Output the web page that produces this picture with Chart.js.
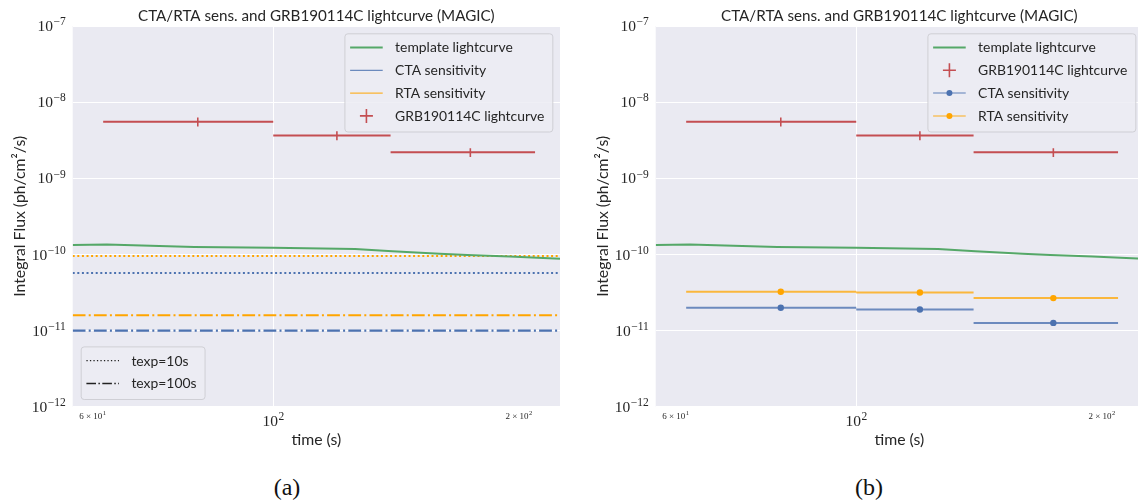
<!DOCTYPE html>
<html><head><meta charset="utf-8">
<script src="https://cdn.jsdelivr.net/npm/chart.js@4/dist/chart.umd.min.js"></script>
<style>
html,body{margin:0;padding:0;background:#fff;width:1138px;height:502px;overflow:hidden;position:relative}
canvas{position:absolute;top:0}
#cA{left:0}
#cB{left:580px}
.cap{position:absolute;top:472px;font-family:"Liberation Serif","DejaVu Serif",serif;font-size:24px;color:#111;transform:translateX(-50%);line-height:30px}
</style></head><body>
<canvas id="cA" width="570" height="470"></canvas>
<canvas id="cB" width="573" height="470"></canvas>
<div class="cap" style="left:287px">(a)</div>
<div class="cap" style="left:869px">(b)</div>
<script>
// ---------- data ----------
const binStart = [61.85, 100, 139.3];
const binEnd = [100, 139.3, 209.5];
const binMid = [80.8, 119.7, 174.5];
const grbFlux = [5.53e-9, 3.66e-9, 2.19e-9];
const grbFluxErr = [0.75e-9, 0.5e-9, 0.29e-9];

const templateTime = [56.75, 62.5, 80, 100, 126, 140, 160, 173, 195, 224.8];
const templateFlux = [1.33e-10, 1.35e-10, 1.25e-10, 1.22e-10, 1.18e-10, 1.10e-10, 1.02e-10, 9.8e-11, 9.4e-11, 8.8e-11];

const ctaSens10s = 5.68e-11;
const rtaSens10s = 9.5e-11;
const ctaSens100s = 1.0e-11;
const rtaSens100s = 1.59e-11;

const ctaSensBins = [1.99e-11, 1.89e-11, 1.26e-11];
const rtaSensBins = [3.23e-11, 3.16e-11, 2.67e-11];

const timeRange = [56.75, 224.8];
const yTickExponents = [-12, -11, -10, -9, -8, -7];
const xMajorTicks = [100];
const xMinorLabelled = [60, 200];

const chartTitle = "CTA/RTA sens. and GRB190114C lightcurve (MAGIC)";
const xTitle = "time (s)";
const yTitle = "Integral Flux (ph/cm²/s)";

// ---------- style ----------
const GREEN = '#55A868', RED = '#C44E52', BLUE = '#4C72B0', ORANGE = '#FFA500';
const BG = '#EAEAF2', TXT = '#262626';
const SANS = '"Lato","DejaVu Sans",sans-serif';
const SERIF = '"Liberation Serif","DejaVu Serif",serif';
const DOT = [2, 2.6];
const DASHDOT = [12.8, 3.2, 2, 3.2];

// ---------- helpers building segment data ----------
function flatLine(v) {
  return [{x: timeRange[0], y: v}, {x: timeRange[1], y: v}];
}
function hSegments(lo, hi, vals) {
  const out = [];
  vals.forEach((v, i) => { out.push({x: lo[i], y: v}, {x: hi[i], y: v}, {x: hi[i], y: null}); });
  return out;
}
function vSegments(mid, vals, errs) {
  const out = [];
  vals.forEach((v, i) => { out.push({x: mid[i], y: v - errs[i]}, {x: mid[i], y: v + errs[i]}, {x: mid[i], y: null}); });
  return out;
}
function points(xs, ys) { return xs.map((x, i) => ({x, y: ys[i]})); }

function lineDs(data, color, width, dash) {
  return {type: 'line', data, borderColor: color, borderWidth: width, borderDash: dash || [],
    pointRadius: 0, tension: 0, fill: false, spanGaps: false, borderCapStyle: 'butt'};
}
function markerDs(data, color) {
  return {type: 'scatter', data, backgroundColor: color, borderColor: color, borderWidth: 0,
    pointRadius: 3.2, showLine: false};
}

// ---------- text drawing ----------
const SUP = {'-': '\u2212'};
function expText(e) { return String(e).split('').map(c => SUP[c] || c).join(''); }

function drawPower(ctx, prefix, exp, x, y, align, baseSize, expSize) {
  ctx.save();
  ctx.fillStyle = TXT;
  ctx.textBaseline = 'alphabetic';
  const baseStr = prefix + '10';
  ctx.font = baseSize + 'px ' + SERIF;
  const wb = ctx.measureText(baseStr).width;
  ctx.font = expSize + 'px ' + SERIF;
  const es = expText(exp);
  const we = ctx.measureText(es).width;
  const total = wb + we;
  let x0 = align === 'right' ? x - total : x - total / 2;
  ctx.textAlign = 'left';
  ctx.font = baseSize + 'px ' + SERIF;
  ctx.fillText(baseStr, x0, y + baseSize * 0.33);
  ctx.font = expSize + 'px ' + SERIF;
  ctx.fillText(es, x0 + wb + 0.5, y - baseSize * 0.05);
  ctx.restore();
}

function drawLegend(ctx, a, entries, anchor) {
  ctx.save();
  ctx.font = '13.9px ' + SANS;
  const textW = Math.max(...entries.map(e => ctx.measureText(e.label).width));
  const padL = 5.7, handleLen = 32.6, gap = 12.4, padR = 8, rowH = 22.8, padT = 14.2, padB = 15.6;
  const w = padL + handleLen + gap + textW + padR;
  const h = padT + (entries.length - 1) * rowH + padB;
  let x0, y0;
  if (anchor === 'upper right') { x0 = a.right - 7.7 - w; y0 = a.top + 7.3; }
  else { x0 = a.left + 8; y0 = a.bottom - 7.7 - h; }
  ctx.beginPath();
  ctx.roundRect(x0 + 0.5, y0 + 0.5, w, h, 3);
  ctx.fillStyle = 'rgba(236,236,243,0.85)';
  ctx.fill();
  ctx.strokeStyle = 'rgba(204,204,210,0.9)';
  ctx.lineWidth = 1;
  ctx.stroke();
  entries.forEach((e, i) => {
    const cy = y0 + padT + i * rowH;
    const hx0 = x0 + padL, hx1 = hx0 + handleLen, hc = (hx0 + hx1) / 2;
    ctx.save();
    if (e.kind === 'line' || e.kind === 'linedot') {
      ctx.strokeStyle = e.color; ctx.globalAlpha = e.alpha || 1;
      ctx.lineWidth = e.width; ctx.setLineDash(e.dash || []);
      ctx.beginPath(); ctx.moveTo(hx0, cy); ctx.lineTo(hx1, cy); ctx.stroke();
      ctx.globalAlpha = 1;
      if (e.kind === 'linedot') {
        ctx.fillStyle = e.color; ctx.beginPath(); ctx.arc(hc, cy, 3, 0, Math.PI * 2); ctx.fill();
      }
    } else if (e.kind === 'plus') {
      ctx.strokeStyle = e.color; ctx.lineWidth = 1.6;
      ctx.beginPath(); ctx.moveTo(hc - 6.5, cy); ctx.lineTo(hc + 6.5, cy);
      ctx.moveTo(hc, cy - 7); ctx.lineTo(hc, cy + 7); ctx.stroke();
    }
    ctx.restore();
    ctx.fillStyle = TXT; ctx.textAlign = 'left'; ctx.textBaseline = 'middle';
    ctx.fillText(e.label, hx1 + gap, cy + 0.5);
  });
  ctx.restore();
}

const decor = {
  id: 'decor',
  beforeDraw(chart) {
    const {ctx, chartArea: a} = chart;
    ctx.save(); ctx.fillStyle = BG; ctx.fillRect(a.left, a.top, a.right - a.left, a.bottom - a.top); ctx.restore();
  },
  afterDraw(chart, args, opts) {
    const {ctx, chartArea: a, scales} = chart;
    const xs = scales.x, ys = scales.y;
    ctx.save();
    ctx.fillStyle = TXT;
    // title
    ctx.font = '15.2px ' + SANS;
    ctx.textAlign = 'center'; ctx.textBaseline = 'alphabetic';
    ctx.fillText(chartTitle, (a.left + a.right) / 2, 21);
    // axis titles
    ctx.font = '15.8px ' + SANS;
    ctx.textBaseline = 'middle';
    ctx.fillText(xTitle, (a.left + a.right) / 2, 439.5);
    ctx.save();
    ctx.translate(a.left - 53, (a.top + a.bottom) / 2);
    ctx.rotate(-Math.PI / 2);
    ctx.fillText(yTitle, 0, 0);
    ctx.restore();
    ctx.restore();
    // y tick labels
    yTickExponents.forEach(e => {
      drawPower(ctx, '', e, a.left - 7.5, ys.getPixelForValue(Math.pow(10, e)), 'right', 15.5, 11.5);
    });
    // x tick labels
    xMajorTicks.forEach(v => {
      drawPower(ctx, '', Math.round(Math.log10(v)), xs.getPixelForValue(v), 421, 'center', 15.5, 11.5);
    });
    xMinorLabelled.forEach(v => {
      const p = Math.floor(Math.log10(v));
      const m = Math.round(v / Math.pow(10, p));
      drawPower(ctx, m + ' \u00d7 ', p, xs.getPixelForValue(v), 415.7, 'center', 9, 6.5);
    });
    opts.legends.forEach(L => drawLegend(ctx, a, L.entries, L.anchor));
  }
};

function makeOptions(padding, legends) {
  return {
    responsive: false, animation: false, devicePixelRatio: 1,
    layout: {padding},
    plugins: {legend: {display: false}, title: {display: false}, tooltip: {enabled: false}, decor: {legends}},
    scales: {
      x: {type: 'logarithmic', min: timeRange[0], max: timeRange[1],
        afterBuildTicks: s => { s.ticks = xMajorTicks.concat(xMinorLabelled).map(v => ({value: v})); },
        ticks: {display: false},
        grid: {drawTicks: false, lineWidth: 1, color: c => (c.tick && xMajorTicks.includes(c.tick.value)) ? '#ffffff' : 'rgba(0,0,0,0)'},
        border: {display: false}},
      y: {type: 'logarithmic', min: Math.pow(10, yTickExponents[0]), max: Math.pow(10, yTickExponents[yTickExponents.length - 1]),
        afterBuildTicks: s => { s.ticks = yTickExponents.map(e => ({value: Math.pow(10, e)})); },
        ticks: {display: false},
        grid: {drawTicks: false, lineWidth: 1, color: '#ffffff'},
        border: {display: false}}
    }
  };
}

// ---------- (a): constant sensitivities for two exposures ----------
new Chart(document.getElementById('cA'), {
  type: 'line',
  data: {datasets: [
    lineDs(points(templateTime, templateFlux), GREEN, 2),
    lineDs(flatLine(ctaSens10s), BLUE, 2, DOT),
    lineDs(flatLine(rtaSens10s), ORANGE, 2, DOT),
    lineDs(flatLine(ctaSens100s), BLUE, 2.2, DASHDOT),
    lineDs(flatLine(rtaSens100s), ORANGE, 2.2, DASHDOT),
    lineDs(hSegments(binStart, binEnd, grbFlux), RED, 2),
    lineDs(vSegments(binMid, grbFlux, grbFluxErr), RED, 1.6)
  ]},
  options: makeOptions({left: 72.7, right: 10, top: 26, bottom: 63.3}, [
    {anchor: 'upper right', entries: [
      {kind: 'line', color: GREEN, width: 2, label: 'template lightcurve'},
      {kind: 'line', color: BLUE, width: 1, label: 'CTA sensitivity'},
      {kind: 'line', color: ORANGE, width: 1, label: 'RTA sensitivity'},
      {kind: 'plus', color: RED, label: 'GRB190114C lightcurve'}]},
    {anchor: 'lower left', entries: [
      {kind: 'line', color: '#222', width: 1.3, dash: [1.3, 2.2], label: 'texp=10s'},
      {kind: 'line', color: '#222', width: 1.5, dash: [9.6, 2.4, 1.5, 2.4], label: 'texp=100s'}]}
  ]),
  plugins: [decor]
});

// ---------- (b): sensitivity per lightcurve bin ----------
new Chart(document.getElementById('cB'), {
  type: 'line',
  data: {datasets: [
    lineDs(points(templateTime, templateFlux), GREEN, 2),
    lineDs(hSegments(binStart, binEnd, grbFlux), RED, 2),
    lineDs(vSegments(binMid, grbFlux, grbFluxErr), RED, 1.6),
    lineDs(hSegments(binStart, binEnd, ctaSensBins), 'rgba(76,114,176,0.8)', 2),
    markerDs(points(binMid, ctaSensBins), BLUE),
    lineDs(hSegments(binStart, binEnd, rtaSensBins), 'rgba(255,165,0,0.75)', 2),
    markerDs(points(binMid, rtaSensBins), ORANGE)
  ]},
  options: makeOptions({left: 75.7, right: 10, top: 26, bottom: 63.3}, [
    {anchor: 'upper right', entries: [
      {kind: 'line', color: GREEN, width: 2, label: 'template lightcurve'},
      {kind: 'plus', color: RED, label: 'GRB190114C lightcurve'},
      {kind: 'linedot', color: BLUE, width: 1.5, alpha: 0.6, label: 'CTA sensitivity'},
      {kind: 'linedot', color: ORANGE, width: 1.5, alpha: 0.6, label: 'RTA sensitivity'}]}
  ]),
  plugins: [decor]
});
</script>
</body></html>
